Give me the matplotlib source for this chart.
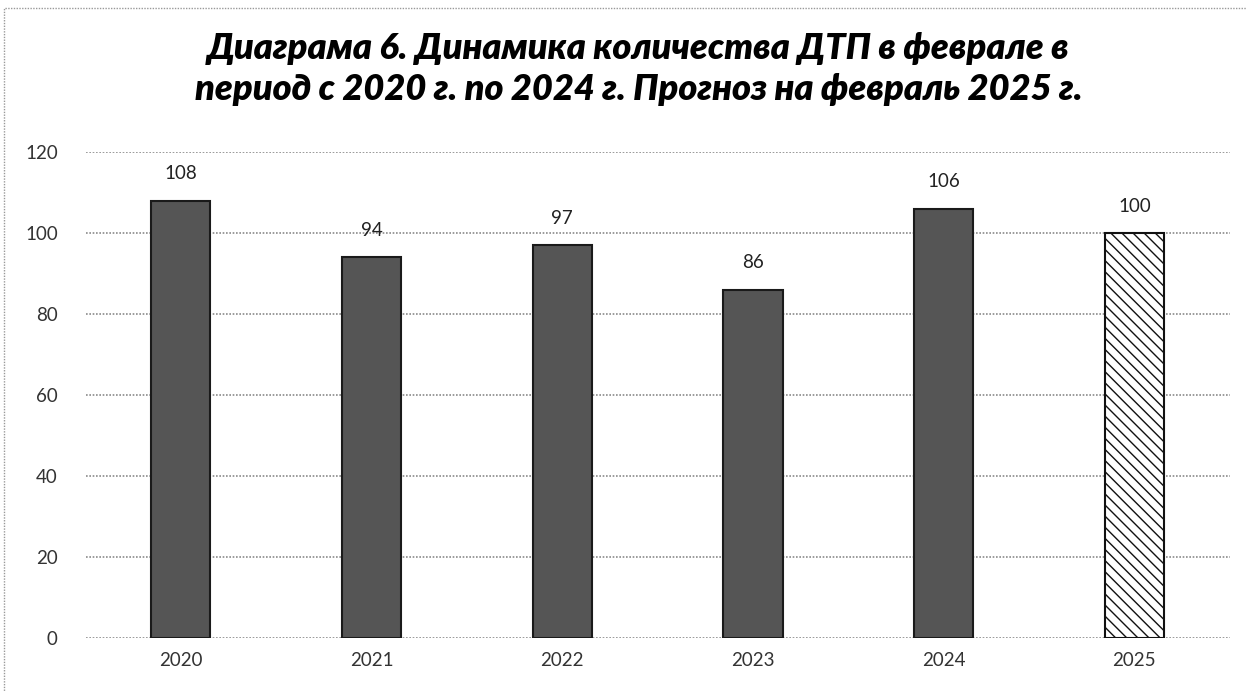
import matplotlib.pyplot as plt
from matplotlib.patches import Rectangle

years = ['2020', '2021', '2022', '2023', '2024', '2025']
accidents = [108, 94, 97, 86, 106, 100]
forecast = [False, False, False, False, False, True]

plt.rcParams['font.family'] = ['Lato', 'DejaVu Sans']

fig = plt.figure(figsize=(12.47, 6.91), dpi=100)
ax = fig.add_axes([0.0686, 0.0767, 0.9175, 0.7033])

x = range(len(years))
for i, (val, fc) in enumerate(zip(accidents, forecast)):
    if fc:
        ax.bar(i, val, width=0.31, color='white', edgecolor='#111111',
               hatch='\\\\\\', linewidth=1.5, zorder=3)
    else:
        ax.bar(i, val, width=0.31, color='#555555', edgecolor='#1a1a1a',
               linewidth=1.5, zorder=3)
    ax.text(i, val + 4.5, str(val), ha='center', va='bottom', fontsize=13.5, color='#222222')

ax.set_xlim(-0.5, len(years) - 0.5)
ax.set_ylim(0, 120)
ax.set_yticks(range(0, 121, 20))
ax.set_xticks(list(x))
ax.set_xticklabels(years)
ax.yaxis.grid(True, color='#8a8a8a', linestyle=(0, (1, 1)), linewidth=1.2, zorder=0)
ax.tick_params(axis='both', length=0, labelsize=13.5, colors='#333333')
ax.tick_params(axis='y', pad=20)
ax.tick_params(axis='x', pad=10)
for s in ax.spines.values():
    s.set_visible(False)

title_kw = dict(ha='center', va='center', fontsize=26, fontweight='heavy', fontstyle='italic')
fig.text(0.512, 0.93, 'Диаграма 6. Динамика количества ДТП в феврале в', **title_kw)
fig.text(0.512, 0.87, 'период с 2020 г. по 2024 г. Прогноз на февраль 2025 г.', **title_kw)

fig.patches.append(Rectangle((0.003, -0.01), 1.0, 0.998, transform=fig.transFigure,
                             fill=False, edgecolor='#999999', linestyle=(0, (1, 1)),
                             linewidth=1))

fig.savefig('out.png', dpi=100)
